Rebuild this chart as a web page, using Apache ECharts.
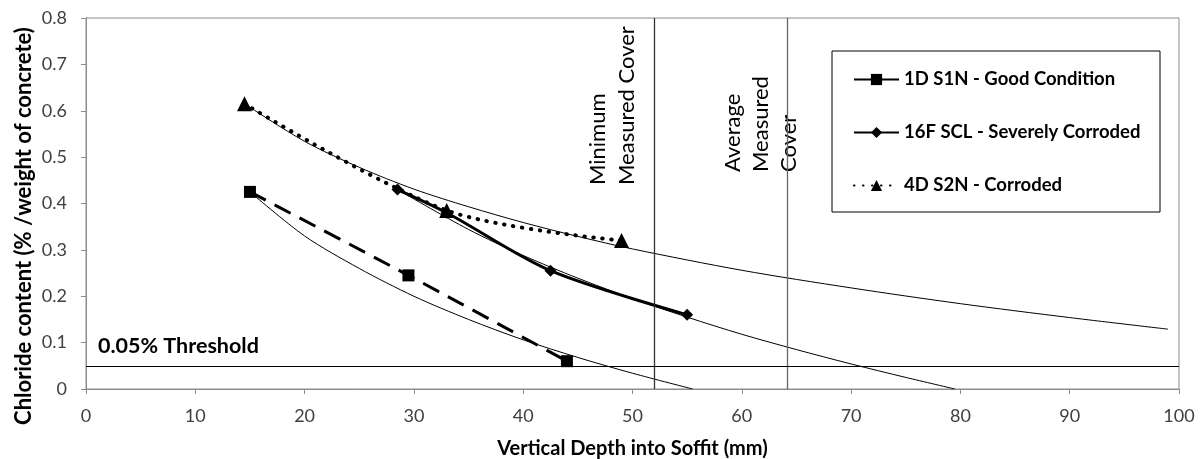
<!DOCTYPE html>
<html>
<head>
<meta charset="utf-8">
<script src="https://cdn.jsdelivr.net/npm/echarts@6/dist/echarts.min.js"></script>
<style>
  html, body { margin: 0; padding: 0; background: #fff; }
  #main { width: 1202px; height: 459px; }
</style>
</head>
<body>
<div id="main"></div>
<script>
// measured points
const goodX = [15, 29.5, 44]
const goodY = [0.425, 0.245, 0.06]
const severeX = [28.5, 33, 42.5, 55]
const severeY = [0.43, 0.38, 0.255, 0.16]
const corrodedX = [14.5, 33, 49]
const corrodedY = [0.615, 0.385, 0.32]

// thin trend curves
const trendGoodX = [15, 20, 25, 30, 35, 40, 45, 50, 55.5]
const trendGoodY = [0.425, 0.33, 0.26, 0.2, 0.15, 0.106, 0.068, 0.034, 0]
const trendSevereX = [28.5, 35, 40, 45, 50, 55, 60, 65, 70, 75, 79.5]
const trendSevereY = [0.43, 0.344, 0.288, 0.239, 0.195, 0.155, 0.118, 0.085, 0.054, 0.025, 0]
const trendCorrodedX = [14.5, 20, 25, 30, 35, 40, 45, 50, 60, 70, 80, 90, 99]
const trendCorrodedY = [0.615, 0.534, 0.478, 0.431, 0.393, 0.359, 0.329, 0.302, 0.256, 0.218, 0.184, 0.154, 0.129]

const seriesNames = ['1D S1N - Good Condition', '16F SCL - Severely Corroded', '4D S2N - Corroded']
const minCover = 52
const avgCover = 64.2
const threshold = 0.05

const FONT = 'Lato'
const pairs = (xs, ys) => xs.map((x, i) => [x, ys[i]])

const trend = (xs, ys) => ({
  type: 'line',
  data: pairs(xs, ys),
  smooth: 0.3,
  showSymbol: false,
  silent: true,
  z: 1,
  lineStyle: { color: '#000', width: 1 }
})

const myChart = echarts.init(document.getElementById('main'))

const option = {
  animation: false,
  backgroundColor: '#fff',
  grid: {
    left: 86, right: 23, top: 18, bottom: 70,
    outerBoundsMode: 'none',
    show: true, borderColor: '#8c8c8c', borderWidth: 1
  },
  legend: {
    data: seriesNames,
    orient: 'vertical',
    left: 848,
    top: 65,
    itemWidth: 45,
    itemHeight: 14,
    itemGap: 34,
    textStyle: { fontFamily: FONT, fontWeight: 'bold', fontSize: 18.5, color: '#000' }
  },
  xAxis: {
    type: 'value',
    min: 0, max: 100, interval: 10,
    name: 'Vertical Depth into Soffit (mm)',
    nameLocation: 'middle',
    nameGap: 50,
    nameTextStyle: { fontFamily: FONT, fontWeight: 'bold', fontSize: 20, color: '#000' },
    axisLine: { onZero: false, lineStyle: { color: '#8c8c8c' } },
    axisTick: { show: true, length: 5, lineStyle: { color: '#8c8c8c' } },
    axisLabel: { fontFamily: FONT, fontSize: 18, color: '#404040', margin: 18 },
    splitLine: { show: false }
  },
  yAxis: {
    type: 'value',
    min: 0, max: 0.8, interval: 0.1,
    axisLine: { show: true, lineStyle: { color: '#8c8c8c' } },
    axisTick: { show: true, length: 5, lineStyle: { color: '#8c8c8c' } },
    axisLabel: { fontFamily: FONT, fontSize: 18, color: '#404040', margin: 19 },
    splitLine: { show: false }
  },
  series: [
    trend(trendGoodX, trendGoodY),
    trend(trendSevereX, trendSevereY),
    trend(trendCorrodedX, trendCorrodedY),
    {
      type: 'line',
      data: [],
      silent: true,
      markLine: {
        symbol: 'none',
        silent: true,
        label: { show: false },
        data: [
          { xAxis: minCover, lineStyle: { color: '#333', width: 1.3, type: 'solid' } },
          { xAxis: avgCover, lineStyle: { color: '#666', width: 1.3, type: 'solid' } },
          { yAxis: threshold, lineStyle: { color: '#000', width: 1.2, type: 'solid' } }
        ]
      }
    },
    {
      name: seriesNames[0],
      type: 'line',
      data: pairs(goodX, goodY),
      smooth: 0.3,
      symbol: 'rect',
      symbolSize: 12,
      z: 3,
      itemStyle: { color: '#000' },
      lineStyle: { color: '#000', width: 3, type: [18, 10] }
    },
    {
      name: seriesNames[1],
      type: 'line',
      data: pairs(severeX, severeY),
      smooth: 0.3,
      symbol: 'diamond',
      symbolSize: 12,
      z: 3,
      itemStyle: { color: '#000' },
      lineStyle: { color: '#000', width: 3 }
    },
    {
      name: seriesNames[2],
      type: 'line',
      data: pairs(corrodedX, corrodedY),
      smooth: 0.3,
      symbol: 'triangle',
      symbolSize: 15,
      z: 3,
      itemStyle: { color: '#000' },
      lineStyle: { color: '#000', width: 4, type: [0.5, 8.5], cap: 'round' }
    }
  ]
}

myChart.setOption(option)

// annotation text placed against the axes
const px = (x, y) => myChart.convertToPixel({ gridIndex: 0 }, [x, y])
const minPx = px(minCover, 0)[0]
const avgPx = px(avgCover, 0)[0]
const thrPx = px(0, threshold)

const vText = (text, x, y) => ({
  type: 'text',
  x, y,
  rotation: Math.PI / 2,
  style: {
    text, fill: '#000',
    font: '22px ' + FONT,
    textAlign: 'left', textVerticalAlign: 'middle'
  }
})

myChart.setOption({
  graphic: [
    {
      type: 'rect',
      shape: { x: 832, y: 51, width: 328, height: 161 },
      style: { fill: 'none', stroke: '#000', lineWidth: 1 }
    },
    {
      type: 'text',
      x: 24, y: 226,
      rotation: Math.PI / 2,
      style: {
        text: 'Chloride content (% /weight of concrete)', fill: '#000',
        font: 'bold 22px ' + FONT,
        textAlign: 'center', textVerticalAlign: 'middle'
      }
    },
    {
      type: 'text',
      x: 98, y: thrPx[1] - 20,
      style: {
        text: '0.05% Threshold', fill: '#000',
        font: 'bold 21.5px ' + FONT,
        textAlign: 'left', textVerticalAlign: 'middle'
      }
    },
    vText('Minimum', minPx - 56, 185),
    vText('Measured Cover', minPx - 27, 185),
    vText('Average', avgPx - 55, 172),
    vText('Measured', avgPx - 27, 172),
    vText('Cover', avgPx + 1, 172)
  ]
})
</script>
</body>
</html>
